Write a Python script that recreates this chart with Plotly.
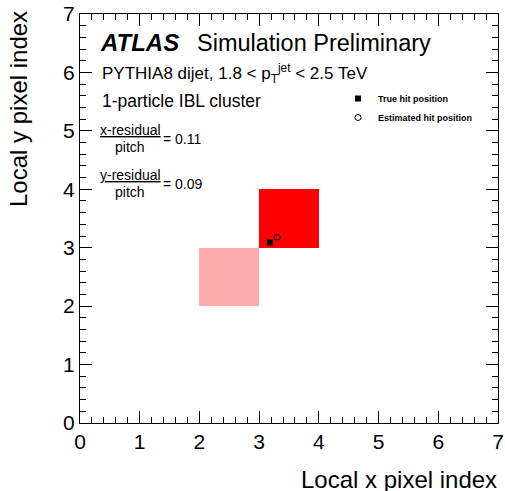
import plotly.graph_objects as go

# Cluster cells: pixel column centre, lower row edge, row height, fill colour
cell_x = [2.5, 3.5]
cell_base = [2, 3]
cell_height = [1, 1]
cell_color = ["#ffaaaa", "#ff0000"]

true_x = [3.18]
true_y = [3.09]
est_x = [3.30]
est_y = [3.18]

x_ticks = [0, 1, 2, 3, 4, 5, 6, 7]
y_ticks = [0, 1, 2, 3, 4, 5, 6, 7]

FONT = "Liberation Sans, Arial, Helvetica, sans-serif"
W, H = 505, 491

fig = go.Figure()
fig.add_trace(go.Bar(
    x=cell_x, y=cell_height, base=cell_base, width=1,
    marker=dict(color=cell_color, line=dict(width=0)),
    showlegend=False, hoverinfo="skip",
))
fig.add_trace(go.Scatter(
    x=true_x, y=true_y, mode="markers", name="<b>True hit position</b>",
    marker=dict(symbol="square", size=6, color="black"),
))
fig.add_trace(go.Scatter(
    x=est_x, y=est_y, mode="markers", name="<b>Estimated hit position</b>",
    marker=dict(symbol="circle-open", size=6, color="black", line=dict(width=1)),
))

axis_common = dict(
    range=[0, 7], showline=True, linecolor="black", mirror="allticks",
    ticks="inside", ticklen=12, tickcolor="black",
    tickfont=dict(family=FONT, size=21, color="black"),
    minor=dict(ticks="inside", ticklen=6, dtick=0.2, tickcolor="black"),
    showgrid=False, zeroline=False,
)
fig.update_xaxes(tickvals=x_ticks, domain=[80 / W, 498 / W], **axis_common)
fig.update_yaxes(tickvals=y_ticks, domain=[68 / H, 477 / H], **axis_common)

ann = []
def px(xp): return xp / W
def py(yp): return 1 - yp / H
def txt(x, y, s, size, xanchor="left", yanchor="middle", **kw):
    ann.append(dict(xref="paper", yref="paper", x=x, y=y, text=s, showarrow=False,
                    xanchor=xanchor, yanchor=yanchor,
                    font=dict(family=FONT, size=size, color="black"), **kw))

txt(px(98), py(43), "<b><i>ATLAS</i></b>", 24)
txt(px(195), py(43), "Simulation Preliminary", 23.5)
txt(px(100), py(73), "PYTHIA8 dijet, 1.8 &lt; p<sub>T</sub><sup>jet</sup> &lt; 2.5 TeV", 17)
txt(px(100), py(101), "1-particle IBL cluster", 17.5)
txt(px(130), py(130), "<u>x-residual</u>", 14, xanchor="center")
txt(px(130), py(147), "pitch", 14, xanchor="center")
txt(px(161), py(139), "= 0.11", 14)
txt(px(130), py(175), "<u>y-residual</u>", 14, xanchor="center")
txt(px(130), py(192), "pitch", 14, xanchor="center")
txt(px(161), py(184), "= 0.09", 14)
# axis titles
txt(px(499), py(479), "Local x pixel index", 24, xanchor="right")
ann.append(dict(xref="paper", yref="paper", x=px(19), y=py(9), text="Local y pixel index",
                showarrow=False, textangle=-90, xanchor="center", yanchor="top",
                font=dict(family=FONT, size=24, color="black")))

fig.update_layout(
    width=W, height=H, margin=dict(l=0, r=0, t=0, b=0, autoexpand=False),
    plot_bgcolor="white", paper_bgcolor="white",
    annotations=ann, barmode="overlay", bargap=0,
    legend=dict(x=px(338), y=py(84), xanchor="left", yanchor="top",
                font=dict(family=FONT, size=9, color="black"),
                bgcolor="rgba(0,0,0,0)", tracegroupgap=0),
)
fig.write_html("out.html")
